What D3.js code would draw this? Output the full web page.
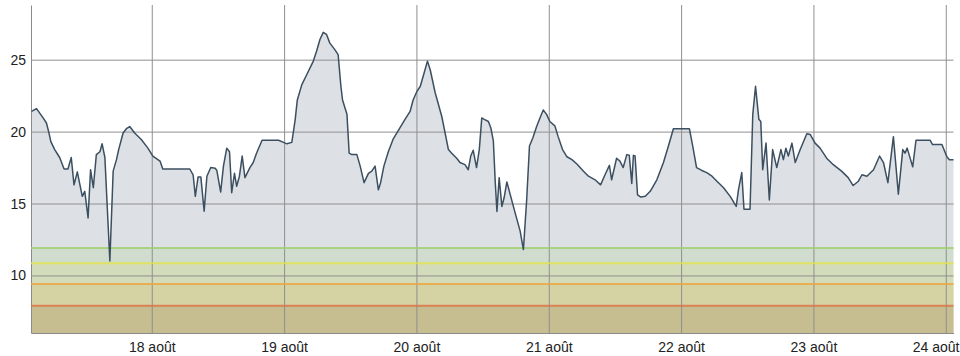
<!DOCTYPE html>
<html>
<head>
<meta charset="utf-8">
<script src="https://cdn.jsdelivr.net/npm/d3@7"></script>
<style>
  html, body { margin: 0; padding: 0; background: #fff; }
  svg { display: block; }
  text { font-family: "Liberation Sans", Arial, sans-serif; }
</style>
</head>
<body>
<svg id="chart" width="960" height="356"></svg>
<script>
// Hours elapsed since 17 août 00:00
const hours = [
  2.2, 3.1, 4.3, 4.9, 5.3, 5.7, 6.4, 7.3, 8.1, 8.8,
  9.4, 9.9, 10.5, 11.4, 11.85, 12.45, 12.9, 13.4, 13.95, 14.6,
  15.0, 15.5, 16.4, 17.0, 17.6, 18.0, 18.8, 19.4, 20.0, 20.9,
  22.1, 23.3, 24.2, 25.5, 26.0, 30.9, 31.5, 31.9, 32.4, 32.9,
  33.5, 34.0, 34.7, 35.5, 35.8, 36.5, 37.0, 37.6, 38.1, 38.5,
  39.0, 39.4, 39.9, 40.4, 40.9, 41.8, 42.4, 43.0, 44.0, 47.0,
  47.9, 48.5, 49.4, 50.0, 50.4, 51.2, 52.1, 53.3, 53.9, 54.5,
  55.1, 55.7, 56.3, 57.2, 57.8, 58.3, 58.6, 59.4, 59.8, 60.3,
  61.2, 61.8, 62.5, 63.3, 63.9, 64.5, 65.1, 65.5, 66.1, 66.9,
  67.8, 69.0, 69.9, 70.85, 71.4, 72.1, 72.7, 73.3, 74.0, 74.5,
  75.4, 76.6, 77.8, 78.4, 79.3, 79.9, 80.8, 81.4, 81.85, 82.3,
  82.9, 83.4, 83.85, 84.3, 85.05, 85.5, 85.95, 86.3, 86.6, 87.0,
  87.5, 87.9, 88.4, 89.1, 89.9, 90.8, 91.4, 92.0, 92.5, 93.1,
  93.8, 94.4, 95.0, 95.6, 96.2, 97.1, 97.7, 98.5, 99.3, 100.2,
  101.1, 102.3, 103.2, 104.4, 105.4, 106.2, 107.0, 107.4, 108.3, 108.9,
  109.5, 110.15, 110.6, 111.05, 111.35, 111.65, 112.1, 112.7, 113.5, 114.4,
  115.6, 116.8, 117.7, 118.6, 121.5, 122.1, 122.8, 123.75, 124.65, 125.6,
  126.5, 127.7, 128.9, 130.0, 130.4, 131.0, 131.4, 132.5, 133.0, 133.5,
  134.1, 134.45, 134.8, 135.4, 136.0, 136.6, 137.35, 138.1, 138.55, 139.0,
  139.45, 140.1, 140.7, 141.6, 142.8, 143.4, 144.3, 145.2, 146.4, 147.6,
  149.1, 150.3, 151.2, 152.15, 152.8, 153.7, 154.9, 156.0, 156.7, 157.5,
  158.5, 159.4, 160.2, 160.6, 161.0, 162.0, 162.6, 165.15, 165.6, 167.3,
  168.2, 168.65, 169.4
];
// Temperature readings
const temps = [
  21.4, 21.6, 20.95, 20.6, 20.0, 19.3, 18.75, 18.2, 17.4, 17.4,
  18.2, 16.3, 17.2, 15.5, 15.85, 14.0, 17.35, 16.1, 18.4, 18.6,
  19.15, 18.2, 11.0, 17.25, 18.05, 18.75, 19.9, 20.2, 20.35, 19.9,
  19.45, 18.85, 18.3, 17.95, 17.4, 17.4, 17.0, 15.5, 16.85, 16.85,
  14.47, 16.9, 17.5, 17.45, 17.3, 15.8, 17.6, 18.85, 18.6, 15.75,
  17.1, 16.2, 16.9, 18.3, 16.8, 17.5, 17.85, 18.5, 19.4, 19.4,
  19.25, 19.15, 19.25, 20.8, 22.2, 23.25, 23.95, 24.9, 25.6, 26.4,
  26.9, 26.75, 26.15, 25.7, 25.35, 23.15, 22.2, 21.2, 18.5, 18.4,
  18.4, 17.6, 16.45, 17.1, 17.25, 17.6, 15.95, 16.45, 17.6, 18.6,
  19.5, 20.26, 20.83, 21.4, 22.2, 22.8, 23.15, 23.95, 24.9, 24.3,
  22.7, 21.05, 18.75, 18.5, 18.15, 17.85, 17.7, 17.35, 18.3, 18.7,
  17.5, 18.75, 20.95, 20.85, 20.7, 20.25, 19.35, 16.45, 14.45, 16.8,
  14.8, 15.4, 16.5, 15.5, 14.35, 13.1, 11.8, 15.3, 19.0, 19.55,
  20.35, 20.95, 21.5, 21.2, 20.7, 20.4, 19.65, 18.75, 18.25, 18.05,
  17.75, 17.25, 16.9, 16.65, 16.3, 17.0, 17.65, 16.65, 18.15, 17.95,
  17.5, 18.4, 18.35, 16.4, 18.35, 18.3, 15.6, 15.45, 15.5, 15.85,
  16.65, 17.85, 19.0, 20.2, 20.2, 19.0, 17.5, 17.3, 17.15, 16.9,
  16.55, 16.1, 15.5, 14.8, 15.95, 17.15, 14.6, 14.6, 21.2, 23.15,
  20.85, 20.7, 17.35, 19.2, 15.25, 18.75, 17.5, 18.75, 18.05, 18.85,
  18.3, 19.2, 17.85, 18.75, 19.85, 19.8, 19.2, 18.85, 18.15, 17.7,
  17.25, 16.8, 16.25, 16.55, 17.0, 16.9, 17.35, 18.3, 17.85, 16.45,
  19.65, 15.65, 18.75, 18.5, 18.85, 17.55, 19.4, 19.4, 19.1, 19.1,
  18.25, 18.05, 18.05
];
const xTickDays = [18, 19, 20, 21, 22, 23, 24];
const xTickLabels = ["18 août", "19 août", "20 août", "21 août", "22 août", "23 août", "24 août"];
const yTicks = [10, 15, 20, 25];
const thresholdValues = [11.9, 10.85, 9.4, 7.9];
const thresholdColors = ["#9fcf6a", "#e4e44a", "#f0a43c", "#dc7044"];
const thresholdFills = ["rgba(140,200,80,0.16)", "rgba(225,225,90,0.16)", "rgba(230,165,60,0.18)", "rgba(140,105,70,0.2)"];

const base = new Date(2014, 7, 17, 0, 0, 0);
const toDate = h => new Date(base.getTime() + h * 3600 * 1000);
const data = hours.map((h, i) => ({ t: toDate(h), v: temps[i] }));

const W = 960;
const mLeft = 31, mRight = 953.5, mTop = 5, mBottom = 333;
const svg = d3.select("#chart");

const x = d3.scaleTime().domain([toDate(2.1), toDate(169.4)]).range([mLeft, mRight]);
const y = d3.scaleLinear().domain([6, 28.8]).range([mBottom, mTop]);

// area
const area = d3.area().x(d => x(d.t)).y0(mBottom).y1(d => y(d.v));
svg.append("path").datum(data).attr("d", area).attr("fill", "#dde1e6");

// threshold fills
thresholdValues.forEach((tv, i) => {
  svg.append("rect")
    .attr("x", mLeft).attr("width", mRight - mLeft)
    .attr("y", y(tv)).attr("height", mBottom - y(tv))
    .attr("fill", thresholdFills[i]);
});

// gridlines + axes
const tickDates = xTickDays.map(d => new Date(2014, 7, d));
const gx = svg.append("g").attr("transform", `translate(0,${mBottom})`)
  .call(d3.axisBottom(x).tickValues(tickDates).tickSizeInner(-(mBottom - mTop)).tickSizeOuter(0)
    .tickFormat((d, i) => xTickLabels[i]));
gx.select(".domain").attr("stroke", "#8a8a8a");
gx.selectAll(".tick line").attr("stroke", "#8f8f8f").attr("stroke-width", 1);
gx.selectAll(".tick text").attr("dy", 0).attr("y", 19)
  .attr("font-size", 14).attr("fill", "#222").attr("font-family", "Liberation Sans, Arial, sans-serif")
  .each(function(d) {
    const bb = this.getBBox();
    const cx = x(d);
    if (cx + bb.width / 2 > W - 1) {
      d3.select(this).attr("text-anchor", "end").attr("x", (W - 1) - cx);
    }
  });

const gy = svg.append("g").attr("transform", `translate(${mLeft},0)`)
  .call(d3.axisLeft(y).tickValues(yTicks).tickSizeInner(-(mRight - mLeft)).tickSizeOuter(0).tickPadding(5));
gy.select(".domain").attr("stroke", "#8a8a8a");
gy.selectAll(".tick line").attr("stroke", "#8f8f8f").attr("stroke-width", 1);
gy.selectAll(".tick text").attr("font-size", 14).attr("fill", "#222")
  .attr("font-family", "Liberation Sans, Arial, sans-serif");

// threshold lines
thresholdValues.forEach((tv, i) => {
  svg.append("line")
    .attr("x1", mLeft).attr("x2", mRight)
    .attr("y1", y(tv)).attr("y2", y(tv))
    .attr("stroke", thresholdColors[i]).attr("stroke-width", 2).attr("stroke-opacity", 0.8);
});

// line
const line = d3.line().x(d => x(d.t)).y(d => y(d.v));
svg.append("path").datum(data).attr("d", line)
  .attr("fill", "none").attr("stroke", "#3b4f61").attr("stroke-width", 1.5)
  .attr("stroke-linejoin", "round");
</script>
</body>
</html>
